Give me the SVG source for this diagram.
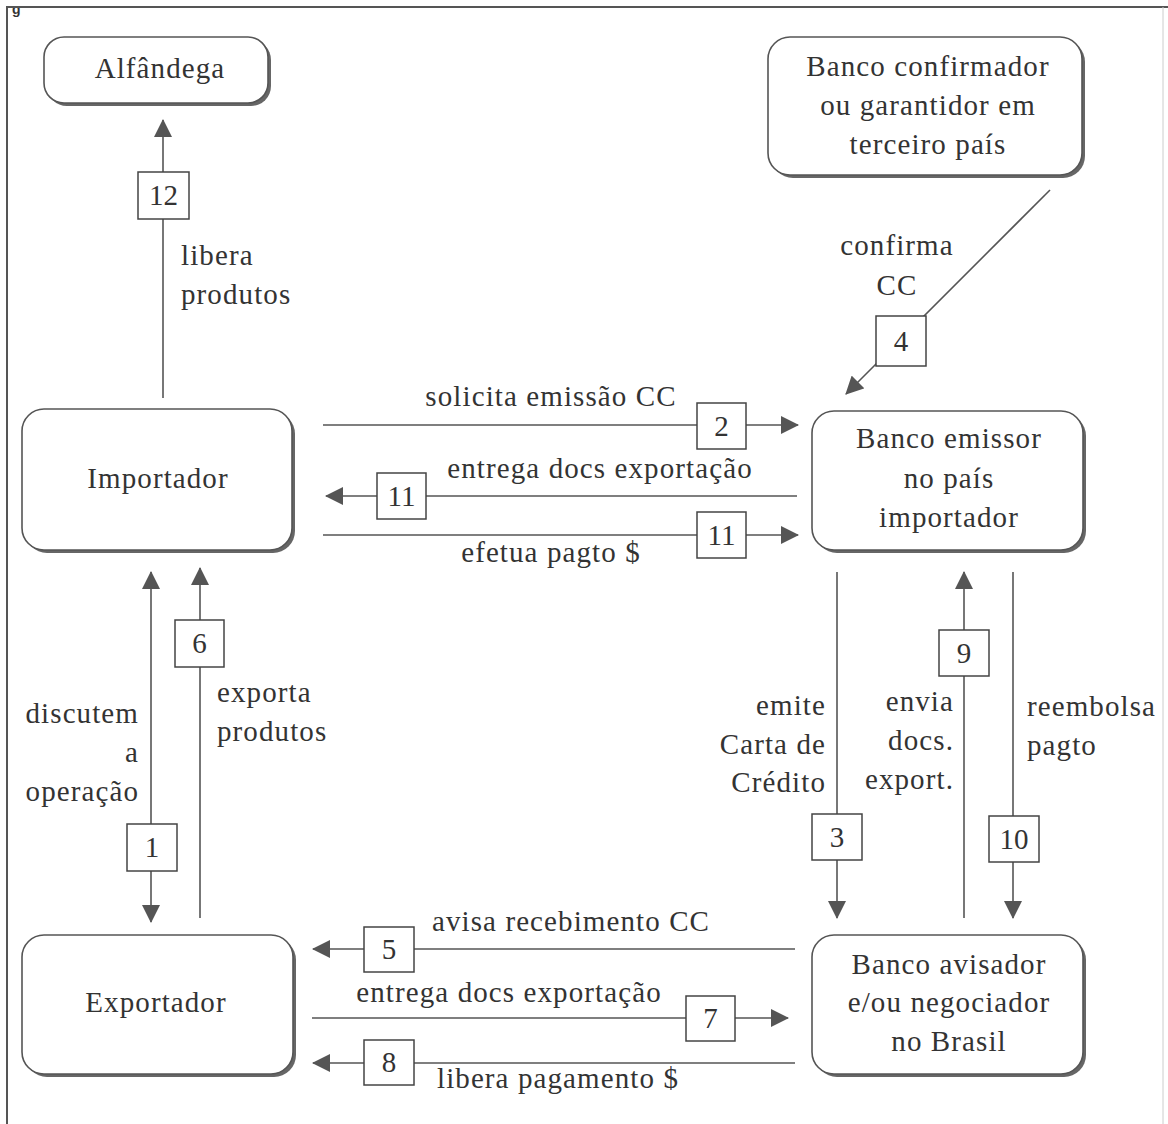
<svg xmlns="http://www.w3.org/2000/svg" width="1168" height="1124" viewBox="0 0 1168 1124">
<defs>
<style>
.t{font-family:"Liberation Serif","Times New Roman",serif;font-size:29px;fill:#333;letter-spacing:1.1px}
.m{text-anchor:middle}
.e{text-anchor:end}
.node{fill:#fff;stroke:#555;stroke-width:1.6}
.sh{fill:#666}
.ln{stroke:#555;stroke-width:1.6;fill:none}
.nb{fill:#fff;stroke:#444;stroke-width:1.5}
.n{font-family:"Liberation Serif","Times New Roman",serif;font-size:29px;fill:#333;text-anchor:middle}
</style>
<marker id="ah" markerUnits="userSpaceOnUse" markerWidth="18" markerHeight="18" viewBox="0 0 18 18" refX="17" refY="9" orient="auto-start-reverse"><path d="M0,0 L18,9 L0,18 z" fill="#555"/></marker>
</defs>
<rect width="1168" height="1124" fill="#fff"/>
<text x="12" y="14" style="font-family:'Liberation Sans',Arial,sans-serif;font-size:14px;font-weight:bold;fill:#333">g</text>
<path d="M7,1124 V7 H1168" fill="none" stroke="#555" stroke-width="2"/>
<line x1="1163" y1="7" x2="1163" y2="1124" stroke="#ccc" stroke-width="1"/>

<g id="alfandega">
<rect class="sh" x="47" y="40" width="224" height="66" rx="20"/>
<rect class="node" x="44" y="37" width="224" height="66" rx="20"/>
<text class="t m" x="160" y="78">Alfândega</text>
</g>
<g id="banco-confirmador">
<rect class="sh" x="771" y="40" width="314" height="138" rx="22"/>
<rect class="node" x="768" y="37" width="314" height="138" rx="22"/>
<text class="t m" x="928" y="76">Banco confirmador</text>
<text class="t m" x="928" y="115">ou garantidor em</text>
<text class="t m" x="928" y="154">terceiro país</text>
</g>
<g id="importador">
<rect class="sh" x="25" y="412" width="270" height="141" rx="22"/>
<rect class="node" x="22" y="409" width="270" height="141" rx="22"/>
<text class="t m" x="158" y="488">Importador</text>
</g>
<g id="banco-emissor">
<rect class="sh" x="815" y="414" width="271" height="139" rx="22"/>
<rect class="node" x="812" y="411" width="271" height="139" rx="22"/>
<text class="t m" x="949" y="448">Banco emissor</text>
<text class="t m" x="949" y="488">no país</text>
<text class="t m" x="949" y="527">importador</text>
</g>
<g id="exportador">
<rect class="sh" x="25" y="938" width="271" height="139" rx="22"/>
<rect class="node" x="22" y="935" width="271" height="139" rx="22"/>
<text class="t m" x="156" y="1012">Exportador</text>
</g>
<g id="banco-avisador">
<rect class="sh" x="815" y="938" width="271" height="139" rx="22"/>
<rect class="node" x="812" y="935" width="271" height="139" rx="22"/>
<text class="t m" x="949" y="974">Banco avisador</text>
<text class="t m" x="949" y="1012">e/ou negociador</text>
<text class="t m" x="949" y="1051">no Brasil</text>
</g>

<g id="connectors">
<line class="ln" x1="163" y1="398" x2="163" y2="120" marker-end="url(#ah)"/>
<line class="ln" x1="1050" y1="190" x2="846" y2="394" marker-end="url(#ah)"/>
<line class="ln" x1="323" y1="425" x2="798" y2="425" marker-end="url(#ah)"/>
<line class="ln" x1="797" y1="496" x2="326" y2="496" marker-end="url(#ah)"/>
<line class="ln" x1="323" y1="535" x2="798" y2="535" marker-end="url(#ah)"/>
<line class="ln" x1="151" y1="922" x2="151" y2="572" marker-start="url(#ah)" marker-end="url(#ah)"/>
<line class="ln" x1="200" y1="918" x2="200" y2="568" marker-end="url(#ah)"/>
<line class="ln" x1="837" y1="572" x2="837" y2="918" marker-end="url(#ah)"/>
<line class="ln" x1="964" y1="918" x2="964" y2="572" marker-end="url(#ah)"/>
<line class="ln" x1="1013" y1="572" x2="1013" y2="918" marker-end="url(#ah)"/>
<line class="ln" x1="795" y1="949" x2="313" y2="949" marker-end="url(#ah)"/>
<line class="ln" x1="312" y1="1018" x2="788" y2="1018" marker-end="url(#ah)"/>
<line class="ln" x1="795" y1="1063" x2="313" y2="1063" marker-end="url(#ah)"/>

<rect class="nb" x="138" y="172" width="51" height="47"/><text class="n" x="163.5" y="205">12</text>
<rect class="nb" x="876" y="316" width="50" height="50"/><text class="n" x="901" y="351">4</text>
<rect class="nb" x="697" y="403" width="49" height="46"/><text class="n" x="721.5" y="436">2</text>
<rect class="nb" x="377" y="473" width="49" height="46"/><text class="n" x="401.5" y="506">11</text>
<rect class="nb" x="697" y="512" width="49" height="46"/><text class="n" x="721.5" y="545">11</text>
<rect class="nb" x="127" y="824" width="50" height="47"/><text class="n" x="152" y="857">1</text>
<rect class="nb" x="175" y="620" width="49" height="47"/><text class="n" x="199.5" y="653">6</text>
<rect class="nb" x="812" y="814" width="50" height="46"/><text class="n" x="837" y="847">3</text>
<rect class="nb" x="939" y="630" width="50" height="46"/><text class="n" x="964" y="663">9</text>
<rect class="nb" x="989" y="816" width="50" height="46"/><text class="n" x="1014" y="849">10</text>
<rect class="nb" x="364" y="927" width="50" height="45"/><text class="n" x="389" y="959">5</text>
<rect class="nb" x="686" y="996" width="49" height="45"/><text class="n" x="710.5" y="1028">7</text>
<rect class="nb" x="364" y="1040" width="50" height="45"/><text class="n" x="389" y="1072">8</text>
</g>

<g id="labels">
<text class="t" x="181" y="265">libera</text>
<text class="t" x="181" y="304">produtos</text>
<text class="t m" x="897" y="255">confirma</text>
<text class="t m" x="897" y="295">CC</text>
<text class="t m" x="551" y="406">solicita emissão CC</text>
<text class="t m" x="600" y="478">entrega docs exportação</text>
<text class="t m" x="551" y="562">efetua pagto $</text>
<text class="t e" x="139" y="723">discutem</text>
<text class="t e" x="139" y="762">a</text>
<text class="t e" x="139" y="801">operação</text>
<text class="t" x="217" y="702">exporta</text>
<text class="t" x="217" y="741">produtos</text>
<text class="t e" x="826" y="715">emite</text>
<text class="t e" x="826" y="754">Carta de</text>
<text class="t e" x="826" y="792">Crédito</text>
<text class="t e" x="954" y="711">envia</text>
<text class="t e" x="954" y="750">docs.</text>
<text class="t e" x="954" y="789">export.</text>
<text class="t" x="1027" y="716">reembolsa</text>
<text class="t" x="1027" y="755">pagto</text>
<text class="t m" x="571" y="931">avisa recebimento CC</text>
<text class="t m" x="509" y="1002">entrega docs exportação</text>
<text class="t m" x="558" y="1088">libera pagamento $</text>
</g>
</svg>
